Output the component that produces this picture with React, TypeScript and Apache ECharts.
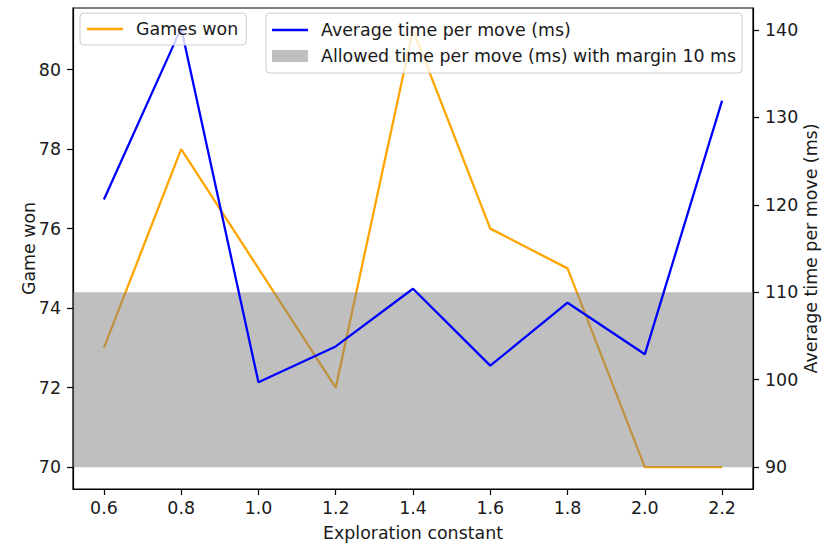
import React, { useEffect, useRef } from "react";
import * as echarts from "echarts";

const xValues = [0.6, 0.8, 1.0, 1.2, 1.4, 1.6, 1.8, 2.0, 2.2];
const gamesWon = [73, 78, 75, 72, 81, 76, 75, 70, 70];
const avgTime = [120.6, 140.2, 99.7, 103.8, 110.4, 101.6, 108.8, 102.9, 131.9];
const allowedBand = [90, 110];
const xTicks = [0.6, 0.8, 1.0, 1.2, 1.4, 1.6, 1.8, 2.0, 2.2];
const leftTicks = [70, 72, 74, 76, 78, 80];
const rightTicks = [90, 100, 110, 120, 130, 140];

const FONT = "DejaVu Sans";
const TXT = "#1a1a1a";
const FS = 17.4;
const LINE_ICON = "path://M0,0L36,0L36,2.4L0,2.4Z";

export default function App() {
  const ref = useRef<HTMLDivElement>(null);
  useEffect(() => {
    if (!ref.current) return;
    const chart = echarts.init(ref.current, null, { renderer: "svg" });
    const axisLine = { show: true, lineStyle: { color: "#000", width: 1.2 } };
    const axisTick = (vals: number[]) => ({
      show: true,
      length: 6,
      customValues: vals,
      lineStyle: { color: "#000", width: 1.2 },
    });
    const legendText = { fontSize: FS, fontFamily: FONT, color: TXT, lineHeight: 20, padding: [0, 0, 0, 8] };
    chart.setOption({
      animation: false,
      backgroundColor: "#fff",
      textStyle: { fontFamily: FONT },
      grid: {
        left: 73,
        top: 8,
        width: 680,
        height: 481,
        show: true,
        borderColor: "#000",
        borderWidth: 1.2,
        backgroundColor: "transparent",
        containLabel: false,
        outerBoundsMode: "none",
      },
      legend: [
        {
          z: 10,
          left: 80,
          top: 13,
          orient: "vertical",
          symbolKeepAspect: true,
          data: [{ name: "Games won", icon: LINE_ICON }],
          itemWidth: 36,
          itemHeight: 12,
          padding: [6, 8, 6, 7],
          borderColor: "#cccccc",
          borderWidth: 1,
          borderRadius: 4,
          backgroundColor: "rgba(255,255,255,0.8)",
          textStyle: legendText,
        },
        {
          z: 10,
          left: 266,
          top: 13,
          orient: "vertical",
          symbolKeepAspect: true,
          data: [
            { name: "Average time per move (ms)", icon: LINE_ICON },
            { name: "Allowed time per move (ms) with margin 10 ms", icon: "rect" },
          ],
          itemWidth: 36,
          itemHeight: 12,
          itemGap: 6,
          padding: [7, 6, 7, 6],
          borderColor: "#cccccc",
          borderWidth: 1,
          borderRadius: 4,
          backgroundColor: "rgba(255,255,255,0.8)",
          textStyle: legendText,
        },
      ],
      xAxis: {
        type: "value",
        min: 0.52,
        max: 2.28,
        axisLine,
        axisTick: axisTick(xTicks),
        splitLine: { show: false },
        axisLabel: {
          customValues: xTicks,
          formatter: (v: number) => v.toFixed(1),
          fontSize: FS,
          color: TXT,
          fontFamily: FONT,
          margin: 10,
        },
        name: "Exploration constant",
        nameLocation: "middle",
        nameGap: 35,
        nameMoveOverlap: false,
        nameTextStyle: { fontSize: FS, color: TXT, fontFamily: FONT },
      },
      yAxis: [
        {
          type: "value",
          position: "left",
          min: 69.45,
          max: 81.55,
          axisLine,
          axisTick: axisTick(leftTicks),
          splitLine: { show: false },
          axisLabel: {
            customValues: leftTicks,
            fontSize: FS,
            color: TXT,
            fontFamily: FONT,
            margin: 12,
          },
          name: "Game won",
          nameLocation: "middle",
          nameGap: 36,
          nameMoveOverlap: false,
          nameTextStyle: { fontSize: FS, color: TXT, fontFamily: FONT },
        },
        {
          type: "value",
          position: "right",
          min: 87.5,
          max: 142.5,
          axisLine,
          axisTick: axisTick(rightTicks),
          splitLine: { show: false },
          axisLabel: {
            customValues: rightTicks,
            fontSize: FS,
            color: TXT,
            fontFamily: FONT,
            margin: 12,
          },
          name: "Average time per move (ms)",
          nameLocation: "middle",
          nameGap: 49,
          nameMoveOverlap: false,
          nameTextStyle: { fontSize: FS, color: TXT, fontFamily: FONT },
        },
      ],
      series: [
        {
          name: "Games won",
          type: "line",
          yAxisIndex: 0,
          z: 2,
          symbol: "none",
          data: xValues.map((x, i) => [x, gamesWon[i]]),
          lineStyle: { color: "#FFA500", width: 2.3 },
          itemStyle: { color: "#FFA500" },
        },
        {
          name: "Allowed time per move (ms) with margin 10 ms",
          type: "custom",
          yAxisIndex: 1,
          z: 3,
          itemStyle: { color: "rgba(128,128,128,0.5)" },
          data: [allowedBand],
          renderItem: (params: any, api: any) => {
            const cs = params.coordSys;
            const yLo = api.coord([1, api.value(0)])[1];
            const yHi = api.coord([1, api.value(1)])[1];
            return {
              type: "rect",
              shape: { x: cs.x, y: yHi, width: cs.width, height: yLo - yHi },
              style: { fill: "rgba(128,128,128,0.5)" },
            };
          },
        },
        {
          name: "Average time per move (ms)",
          type: "line",
          yAxisIndex: 1,
          z: 4,
          symbol: "none",
          data: xValues.map((x, i) => [x, avgTime[i]]),
          lineStyle: { color: "#0000FF", width: 2.3 },
          itemStyle: { color: "#0000FF" },
        },
      ],
    });
    return () => chart.dispose();
  }, []);
  return (
    <div
      ref={ref}
      style={{ position: "fixed", left: 0, top: 0, width: 822, height: 547 }}
    />
  );
}
